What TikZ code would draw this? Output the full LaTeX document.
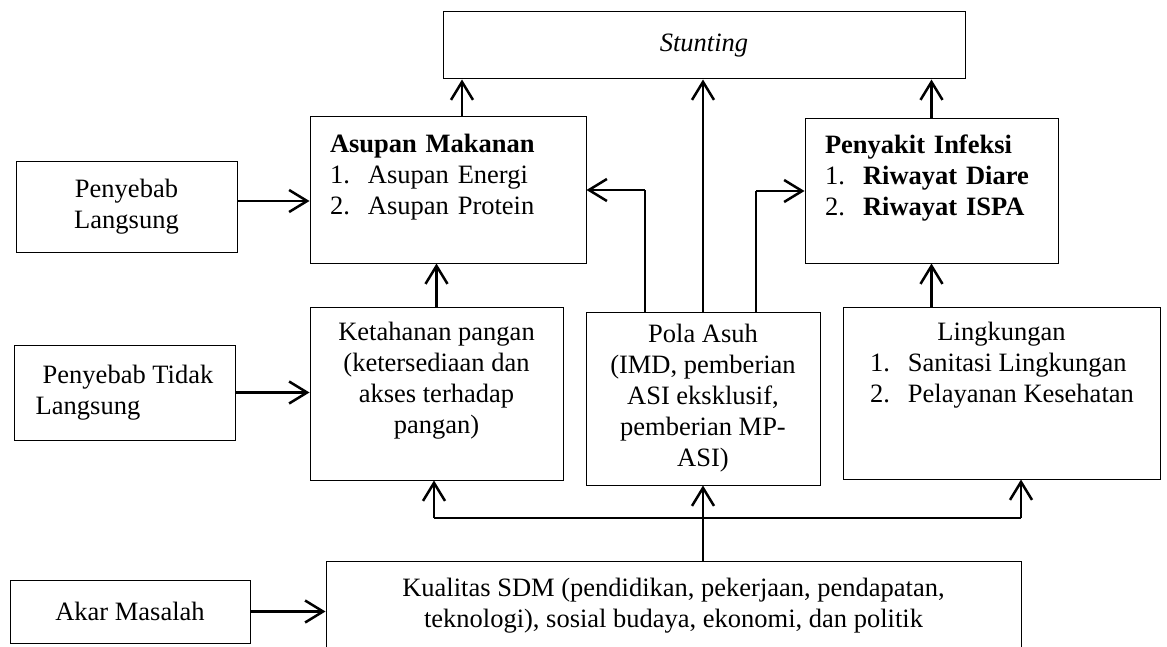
\documentclass[tikz,border=0pt]{standalone}
\usepackage{fontspec}
\setmainfont{Liberation Serif}
\usepackage{tikz}
\usetikzlibrary{calc,arrows.meta,positioning}
\newcommand{\nitem}[2]{\makebox[38pt][l]{#1}#2}

\begin{document}
\begin{tikzpicture}[x=1pt,y=-1pt]
    \tikzstyle{box}=[draw,line width=1pt,inner xsep=20pt,inner ysep=0pt,font=\fontsize{26.5}{31}\selectfont]
    \tikzstyle{arr}=[line width=2.5pt,-{Straight Barb[length=18pt,width=22pt]}]
    \tikzstyle{wire}=[line width=1.2pt]

    \useasboundingbox (0,0) rectangle (1167,647);

    \node[box,minimum width=522pt,minimum height=67pt] (stunting) at (704,45.5) {\textit{Stunting}};
    \node[box,text width=236pt,align=left,minimum height=146pt] (asupan) at (448,190) {\textbf{Asupan Makanan}\\ \nitem{1.}{Asupan Energi}\\ \nitem{2.}{Asupan Protein}\\ \mbox{}};
    \node[box,text width=213pt,align=left,minimum height=144pt] (infeksi) at (931.5,191) {\textbf{Penyakit Infeksi}\\ \nitem{1.}{\textbf{Riwayat Diare}}\\ \nitem{2.}{\textbf{Riwayat ISPA}}\\ \mbox{}};
    \node[box,minimum width=221pt,minimum height=90pt,align=center] (langsung) at (126.5,207) {Penyebab\\ Langsung};
    \node[box,minimum width=221pt,minimum height=95pt,align=left] (tidak) at (124.5,392.5) {\hspace*{7pt}Penyebab Tidak\\ Langsung};
    \node[box,minimum width=253pt,minimum height=173pt,align=center] (pangan) at (436.5,393.5) {Ketahanan pangan\\ (ketersediaan dan\\ akses terhadap\\ pangan)\\ \mbox{}};
    \node[box,minimum width=234pt,minimum height=173pt,align=center] (asuh) at (703,398.5) {Pola Asuh\\ (IMD, pemberian\\ ASI eksklusif,\\ pemberian MP-\\ ASI)};
    \node[box,minimum width=317pt,minimum height=172pt,align=center] (lingkungan) at (1001.5,393) {Lingkungan\\ \makebox[263pt][l]{\nitem{1.}{Sanitasi Lingkungan}}\\ \makebox[263pt][l]{\nitem{2.}{Pelayanan Kesehatan}}\\ \mbox{}\\ \mbox{}};
    \node[box,minimum width=695pt,minimum height=114pt,align=center] (sdm) at (673.5,618) {Kualitas SDM (pendidikan, pekerjaan, pendapatan,\\ teknologi), sosial budaya, ekonomi, dan politik\\ \mbox{}};
    \node[box,minimum width=240pt,minimum height=63pt] (akar) at (130,611.5) {Akar Masalah};

    \coordinate (busL) at (434,518);
    \coordinate (busR) at (1021,518);

    % causes into the boxes
    \draw[arr] ($(langsung.east)+(0,-6)$) -- ($(langsung.east -| asupan.west)+(0,-6)$);
    \draw[arr] (tidak.east) -- (tidak.east -| pangan.west);
    \draw[arr] (akar.east) -- (akar.east -| sdm.west);

    % up to stunting
    \draw[arr] ($(asupan.north)+(14,0)$) -- ($(asupan.north |- stunting.south)+(14,0)$);
    \draw[arr] (asuh.north) -- (asuh.north |- stunting.south);
    \draw[arr] (infeksi.north) -- (infeksi.north |- stunting.south);
    \draw[arr] (pangan.north) -- (pangan.north |- asupan.south);
    \draw[arr] (infeksi.south |- lingkungan.north) -- (infeksi.south);

    % pola asuh to both sides
    \draw[wire] ($(asuh.north)+(-58,0)$) -- ($(asuh.north |- asupan.east)+(-58,0)$);
    \draw[arr] ($(asuh.north |- asupan.east)+(-58,0)$) -- (asupan.east);
    \draw[wire] ($(asuh.north)+(53,0)$) -- ($(asuh.north |- infeksi.west)+(53,0)$);
    \draw[arr] ($(asuh.north |- infeksi.west)+(53,0)$) -- (infeksi.west);

    % root to the middle row
    \draw[arr] (asuh.south |- sdm.north) -- (asuh.south);
    \draw[wire] (busL) -- (busR);
    \draw[arr] (busL) -- (busL |- pangan.south);
    \draw[arr] (busR) -- (busR |- lingkungan.south);
\end{tikzpicture}
\end{document}
